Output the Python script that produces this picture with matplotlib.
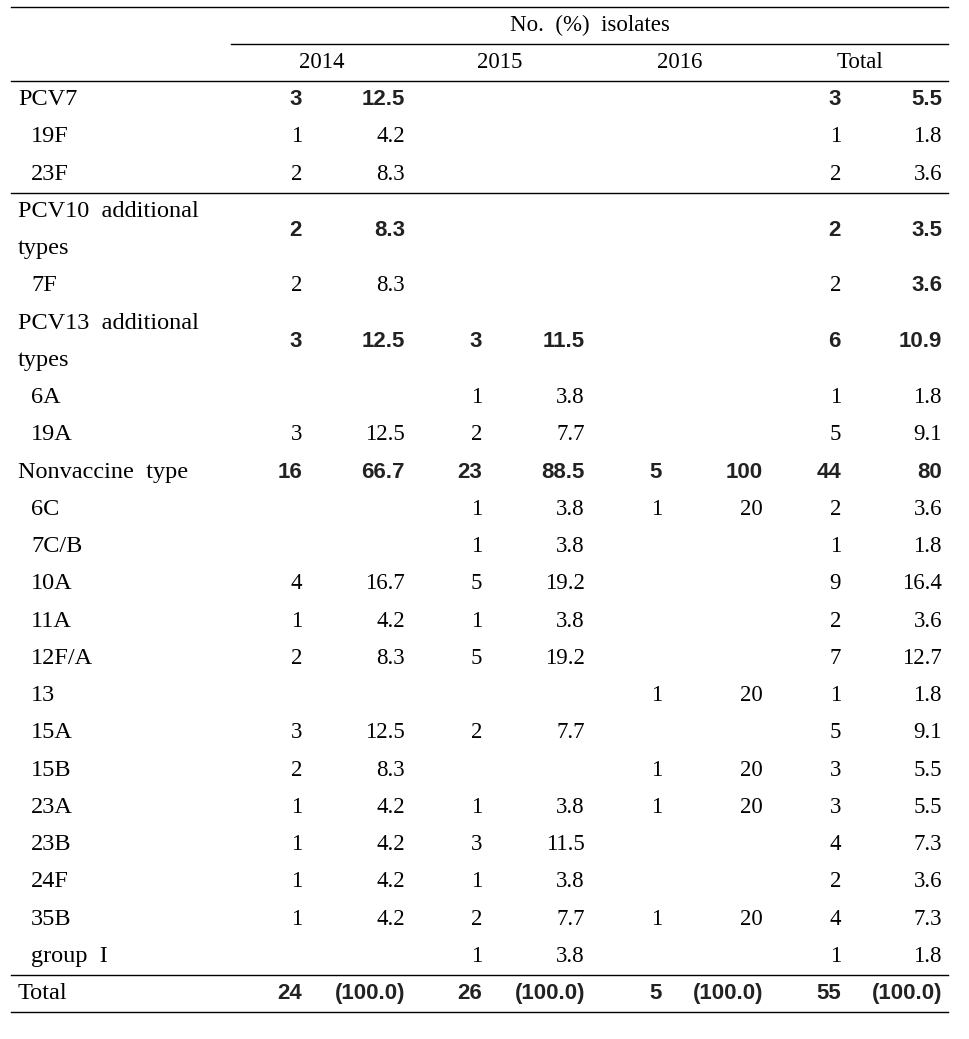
import matplotlib
matplotlib.use("Agg")
import matplotlib.pyplot as plt

# table content
labels = ["PCV7", "19F", "23F", "PCV10  additional\ntypes", "7F",
          "PCV13  additional\ntypes", "6A", "19A", "Nonvaccine  type", "6C",
          "7C/B", "10A", "11A", "12F/A", "13", "15A", "15B", "23A", "23B",
          "24F", "35B", "group  I", "Total"]
is_group = [True, False, False, True, False, True, False, False, True, False,
            False, False, False, False, False, False, False, False, False,
            False, False, False, True]
row_units = [1, 1, 1, 2, 1, 2] + [1] * 17

n2014 = ["3", "1", "2", "2", "2", "3", "", "3", "16", "", "", "4", "1", "2",
         "", "3", "2", "1", "1", "1", "1", "", "24"]
p2014 = ["12.5", "4.2", "8.3", "8.3", "8.3", "12.5", "", "12.5", "66.7", "",
         "", "16.7", "4.2", "8.3", "", "12.5", "8.3", "4.2", "4.2", "4.2",
         "4.2", "", "(100.0)"]
n2015 = ["", "", "", "", "", "3", "1", "2", "23", "1", "1", "5", "1", "5", "",
         "2", "", "1", "3", "1", "2", "1", "26"]
p2015 = ["", "", "", "", "", "11.5", "3.8", "7.7", "88.5", "3.8", "3.8",
         "19.2", "3.8", "19.2", "", "7.7", "", "3.8", "11.5", "3.8", "7.7",
         "3.8", "(100.0)"]
n2016 = ["", "", "", "", "", "", "", "", "5", "1", "", "", "", "", "1", "",
         "1", "1", "", "", "1", "", "5"]
p2016 = ["", "", "", "", "", "", "", "", "100", "20", "", "", "", "", "20",
         "", "20", "20", "", "", "20", "", "(100.0)"]
n_total = ["3", "1", "2", "2", "2", "6", "1", "5", "44", "2", "1", "9", "2",
           "7", "1", "5", "3", "3", "4", "2", "4", "1", "55"]
p_total = ["5.5", "1.8", "3.6", "3.5", "3.6", "10.9", "1.8", "9.1", "80",
           "3.6", "1.8", "16.4", "3.6", "12.7", "1.8", "9.1", "5.5", "5.5",
           "7.3", "3.6", "7.3", "1.8", "(100.0)"]
years = ["2014", "2015", "2016", "Total"]
header = "No.  (%)  isolates"

columns = [n2014, p2014, n2015, p2015, n2016, p2016, n_total, p_total]
col_right = [302, 405, 482, 585, 662, 763, 841, 942]
year_x = [322, 500, 680, 860]

SERIF = "Liberation Serif"
SANS = "Liberation Sans"
FS = 16.5
FS_LAB = 17.5

fig = plt.figure(figsize=(9.70, 10.39), dpi=100)
ax = fig.add_axes([0, 0, 1, 1])
ax.set_xlim(0, 970)
ax.set_ylim(1039, 0)
ax.axis("off")

x0, x1 = 11, 948
lw = 1.0
ax.plot([x0, x1], [7, 7], color="black", lw=lw)
ax.plot([231, x1], [44, 44], color="black", lw=lw)
ax.plot([x0, x1], [81, 81], color="black", lw=lw)

ax.text(590, 25.5, header, ha="center", va="center", fontsize=FS, family=SERIF)
for x, y in zip(year_x, years):
    ax.text(x, 62.5, y, ha="center", va="center", fontsize=FS, family=SERIF)

unit = 37.25
top = 81
for i, lab in enumerate(labels):
    h = row_units[i] * unit
    if lab == "Total":
        top = 975
        h = 37
    yc = top + h / 2
    grp = is_group[i]
    lx = 18 if grp else 31
    if "\n" in lab:
        a, b = lab.split("\n")
        ax.text(lx, yc - unit / 2, a, ha="left", va="center", fontsize=FS_LAB, family=SERIF)
        ax.text(lx, yc + unit / 2, b, ha="left", va="center", fontsize=FS_LAB, family=SERIF)
    else:
        ax.text(lx, yc, lab, ha="left", va="center", fontsize=FS_LAB, family=SERIF)
    for j, col in enumerate(columns):
        val = col[i]
        if not val:
            continue
        bold = grp or (lab == "7F" and j == 7)
        if bold:
            ax.text(col_right[j], yc, val, ha="right", va="center", fontsize=FS - 0.5,
                    family=SANS, fontweight="bold", color="#222222")
        else:
            ax.text(col_right[j], yc, val, ha="right", va="center", fontsize=FS,
                    family=SERIF)
    if lab == "23F":
        ax.plot([x0, x1], [top + h, top + h], color="black", lw=lw)
    top += h

ax.plot([x0, x1], [975, 975], color="black", lw=lw)
ax.plot([x0, x1], [1012, 1012], color="black", lw=lw)

fig.savefig("out.png", dpi=100)
